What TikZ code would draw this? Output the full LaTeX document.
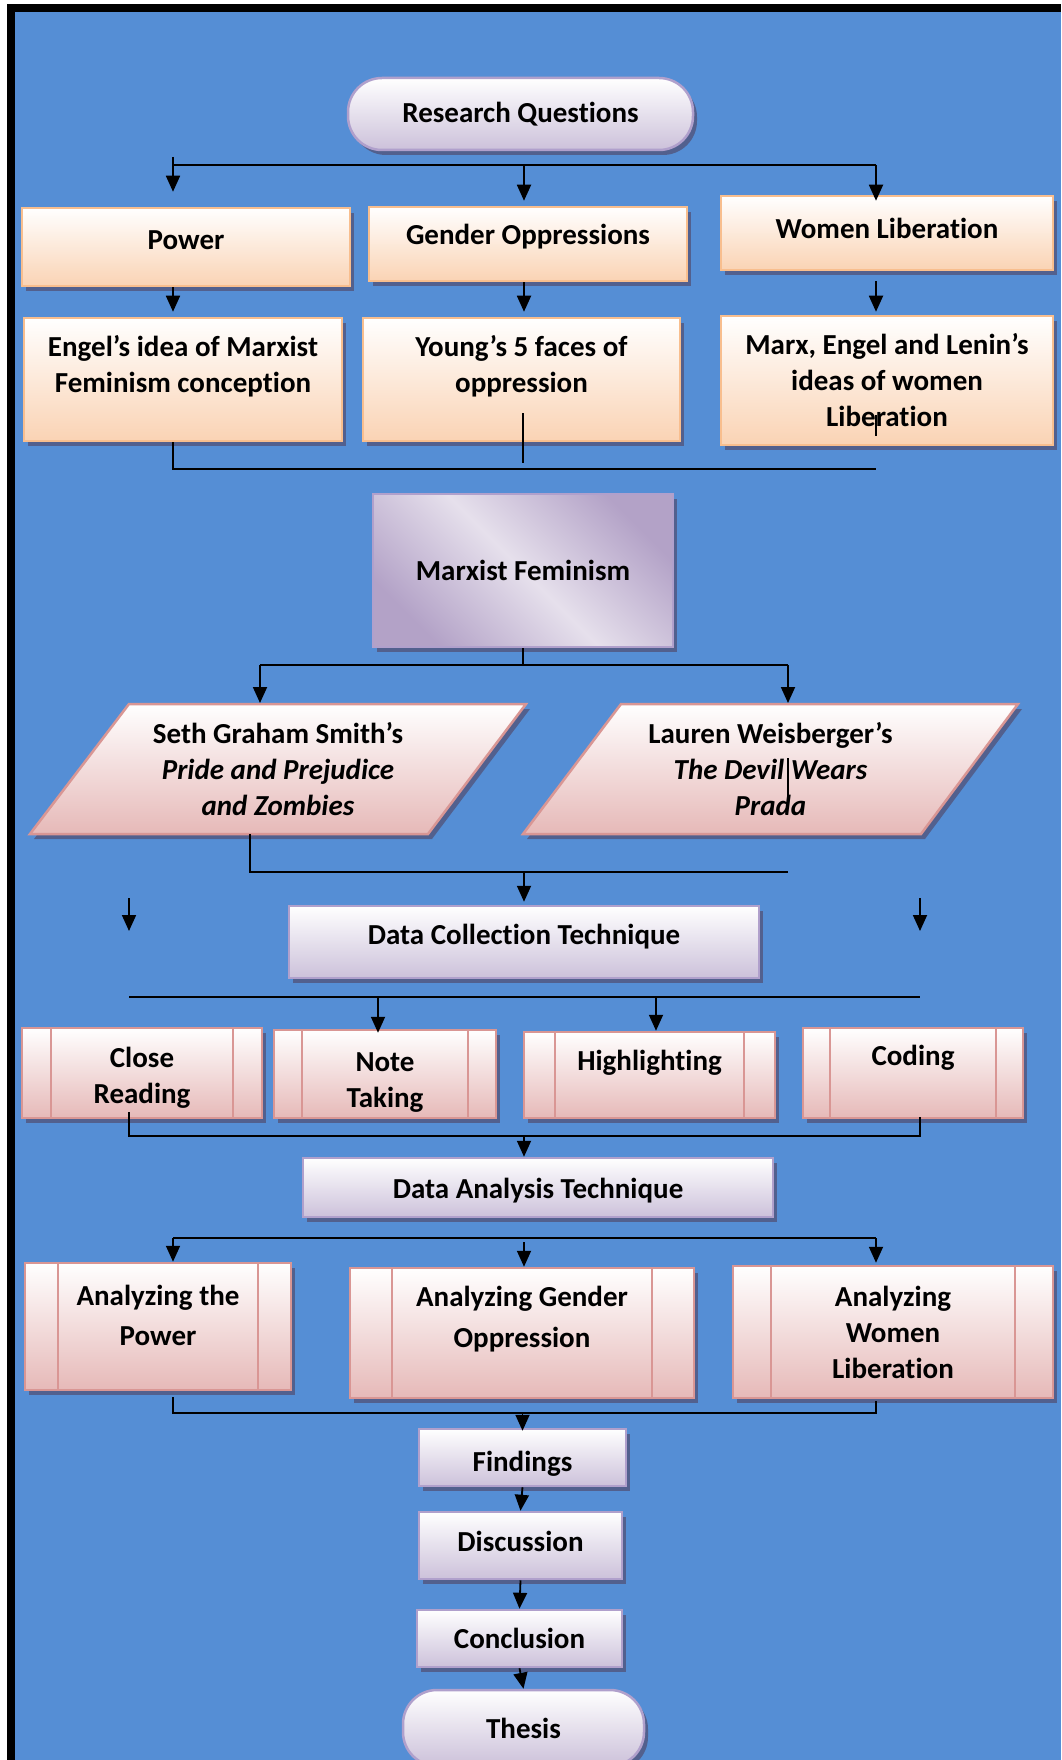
\documentclass[tikz,border=0pt]{standalone}
\usepackage{fontspec}
\setmainfont{Carlito}[Ligatures={NoCommon,NoRequired,NoContextual},Contextuals=NoAlternate]
\usetikzlibrary{arrows.meta,shadows}
\definecolor{bgblue}{HTML}{558ED5}
\definecolor{orangeline}{HTML}{F8BE8E}
\definecolor{orangefill}{HTML}{FAD3B4}
\definecolor{purpleline}{HTML}{B0A0CC}
\definecolor{purplefill}{HTML}{CCC1DA}
\definecolor{pinkline}{HTML}{D99694}
\definecolor{pinkfill}{HTML}{E6B9B8}
\definecolor{mfdark}{HTML}{B3A2C7}
\definecolor{mflight}{HTML}{E6E0EC}
\definecolor{shadowc}{HTML}{52608E}

\begin{document}
\begin{tikzpicture}[x=1pt,y=-1pt,
      every node/.style={font=\bfseries\fontsize{29}{36}\selectfont,align=center,inner sep=0pt},
      dropsh/.style={drop shadow={shadow xshift=4pt,shadow yshift=-5pt,fill=shadowc,opacity=1}},
      orangebox/.style={draw=orangeline,line width=2.5pt,top color=white,bottom color=orangefill,dropsh},
      purplebox/.style={draw=purpleline,line width=2.5pt,top color=white,bottom color=purplefill,dropsh},
      pinkbox/.style={draw=pinkline,line width=2.5pt,top color=white,bottom color=pinkfill,dropsh},
      pill/.style={purplebox,rounded corners=34pt},
      procbox/.style={pinkbox,path picture={%
        \draw[pinkline,line width=2.5pt] ([xshift=#1]path picture bounding box.north west) -- ([xshift=#1]path picture bounding box.south west)
          ([xshift=-#1]path picture bounding box.north east) -- ([xshift=-#1]path picture bounding box.south east) ;}},
      link/.style={line width=1.8pt},
      arr/.style={link,-{Triangle[length=16pt,width=14pt]}}]
      \useasboundingbox (0,0) rectangle (1061,1760) ;
      \fill[white] (0,0) rectangle (1061,1760) ;
      \fill[black] (7,4) rectangle (1061,1760) ;
      \fill[bgblue] (15,12) rectangle (1061,1760) ;

      \node[pill,minimum width=345pt,minimum height=72pt] (rq) at (520.5,114) {Research Questions} ;
      \node[orangebox,minimum width=328pt,minimum height=78pt,text depth=14pt] (power) at (186,247) {Power} ;
      \node[orangebox,minimum width=318pt,minimum height=74pt,text depth=20pt] (gender) at (528,244) {Gender Oppressions} ;
      \node[orangebox,minimum width=332pt,minimum height=74pt,text depth=10pt] (women) at (887,233) {Women Liberation} ;
      \node[orangebox,minimum width=318pt,minimum height=123pt,text depth=32pt] (engel) at (183,379.5) %
        {Engel’s idea of Marxist\\Feminism conception} ;
      \node[orangebox,minimum width=317pt,minimum height=123pt,text depth=32pt] (young) at (521.5,379.5) %
        {Young’s 5 faces of\\oppression} ;
      \node[orangebox,minimum width=332pt,minimum height=129pt] (marx) at (887,380.5) %
        {Marx, Engel and Lenin’s\\ideas of women\\Liberation} ;
      \node[draw=purpleline,line width=2.5pt,left color=mfdark,right color=mfdark,middle color=mflight,%
        shading angle=-45,dropsh,minimum width=300pt,minimum height=153pt] (mf) at (523,570.5) {Marxist Feminism} ;

      \path[pinkbox] (129,704) -- (526,704) -- (428,834) -- (30,834) -- cycle ;
      \node (seth) at (278,769) {Seth Graham Smith’s\\\textit{Pride and Prejudice}\\\textit{and Zombies}} ;
      \path[pinkbox] (621,704) -- (1018,704) -- (921,834) -- (523,834) -- cycle ;
      \node (lauren) at (770.5,769) {Lauren Weisberger’s\\\textit{The Devil Wears}\\\textit{Prada}} ;

      \node[purplebox,minimum width=470pt,minimum height=72pt,text depth=16pt] (dct) at (524,942) {Data Collection Technique} ;
      \node[procbox=29pt,minimum width=240pt,minimum height=90pt,text height=66pt] (cr) at (142,1073) {Close\\Reading} ;
      \node[procbox=28pt,minimum width=222pt,minimum height=88pt,text height=71pt] (nt) at (385,1074) {Note\\Taking} ;
      \node[procbox=31pt,minimum width=251pt,minimum height=86pt,text depth=30pt] (hl) at (649.5,1075) {Highlighting} ;
      \node[procbox=27pt,minimum width=220pt,minimum height=90pt,text depth=36pt] (cod) at (913,1073) {Coding} ;

      \node[purplebox,minimum width=470pt,minimum height=59pt,text height=26pt] (dat) at (538,1187.5) {Data Analysis Technique} ;
      \node[procbox=33pt,minimum width=266pt,minimum height=127pt,text depth=22pt] (ap) at (158,1326.5) %
        {Analyzing the\\[4pt]Power} ;
      \node[procbox=42pt,minimum width=344pt,minimum height=130pt,text depth=32pt] (ag) at (522,1333) %
        {Analyzing Gender\\[5pt]Oppression} ;
      \node[procbox=38pt,minimum width=320pt,minimum height=132pt] (aw) at (893,1332) %
        {Analyzing\\Women\\Liberation} ;

      \node[purplebox,minimum width=207pt,minimum height=57pt,text height=32pt] (fnd) at (522.5,1457.5) {Findings} ;
      \node[purplebox,minimum width=203pt,minimum height=67pt,text depth=9pt] (dis) at (520.5,1545.5) {Discussion} ;
      \node[purplebox,minimum width=205pt,minimum height=57pt] (con) at (519.5,1638.5) {Conclusion} ;
      \node[pill,minimum width=241pt,minimum height=76pt] (th) at (523.5,1728) {Thesis} ;

      \coordinate (rqL) at (173,165) ;
      \coordinate (rqM) at (524,165) ;
      \coordinate (rqR) at (876,165) ;
      \draw[link] (rqL) -- (rqR) ;
      \draw[arr] ([yshift=8pt]rqL) -- ([yshift=15pt]rqL |- power.north) ;
      \draw[arr] (rqM) -- ([yshift=5pt]rqM |- gender.north) ;
      \draw[arr] (rqR) -- ([yshift=-6pt]rqR |- women.north) ;
      \draw[arr] (rqL |- power.south) -- ([yshift=5pt]rqL |- engel.north) ;
      \draw[arr] (rqM |- gender.south) -- ([yshift=5pt]rqM |- young.north) ;
      \draw[arr] ([yshift=-10pt]rqR |- women.south) -- ([yshift=3pt]rqR |- marx.north) ;

      \coordinate (msL) at (173,469) ;
      \coordinate (msR) at (876,469) ;
      \coordinate (yin) at (523,413) ;
      \coordinate (xin) at (876,415) ;
      \draw[link] (msL |- engel.south) -- (msL) -- (msR) ;
      \draw[link] (yin) -- ++(0,50) ;
      \draw[link] (xin) -- ++(0,21) ;

      \coordinate (pbL) at (260,665) ;
      \coordinate (pbR) at (788,665) ;
      \draw[link] (mf.south) -- (mf.south |- pbL) ;
      \draw[link] (pbL) -- (pbR) ;
      \draw[arr] (pbL) -- ++(0,38) ;
      \draw[arr] (pbR) -- ++(0,38) ;

      \coordinate (sb) at (250,834) ;
      \coordinate (cbL) at (250,872) ;
      \coordinate (cbR) at (788,872) ;
      \coordinate (lin) at (788,758) ;
      \draw[link] (sb) -- (cbL) -- (cbR) ;
      \draw[link] (lin) -- ++(0,40) ;
      \draw[arr] (dct.north |- cbL) -- ([yshift=3pt]dct.north) ;

      \coordinate (dbL) at (129,997) ;
      \coordinate (dbR) at (920,997) ;
      \draw[arr] ([yshift=99pt]dbL) -- ([yshift=66pt]dbL) ;
      \draw[arr] ([yshift=99pt]dbR) -- ([yshift=66pt]dbR) ;
      \draw[link] (dbL) -- (dbR) ;
      \draw[arr] ([xshift=-7pt]nt.north |- dbL) -- ([xshift=-7pt,yshift=-4pt]nt.north) ;
      \draw[arr] ([xshift=6.5pt]hl.north |- dbL) -- ([xshift=6.5pt]hl.north) ;

      \coordinate (ebL) at (129,1136) ;
      \coordinate (ebM) at (524,1136) ;
      \coordinate (ebR) at (920,1136) ;
      \draw[link] ([yshift=24pt]ebL) -- (ebL) -- (ebR) -- ([yshift=19pt]ebR) ;
      \draw[arr] (ebM) -- (ebM |- dat.north) ;

      \coordinate (fbL) at (173,1238) ;
      \coordinate (fbM) at (524,1238) ;
      \coordinate (fbR) at (876,1238) ;
      \draw[link] (fbL) -- (fbR) ;
      \draw[arr] (fbL) -- (fbL |- ap.north) ;
      \draw[arr] ([yshift=-4pt]fbM) -- (fbM |- ag.north) ;
      \draw[arr] (fbR) -- ([yshift=2pt]fbR |- aw.north) ;

      \coordinate (gbL) at (173,1413) ;
      \coordinate (gbR) at (876,1413) ;
      \draw[link] ([yshift=-6pt]gbL |- ap.south) -- (gbL) -- (gbR) -- ([yshift=-2pt]gbR |- aw.south) ;
      \draw[arr] (fnd.north |- gbL) -- ([yshift=-3pt]fnd.north) ;
      \draw[arr] (fnd.south) -- (dis.north) ;
      \draw[arr] (dis.south) -- (con.north) ;
      \draw[arr] (con.south) -- (th.north) ;
    \end{tikzpicture}
\end{document}
